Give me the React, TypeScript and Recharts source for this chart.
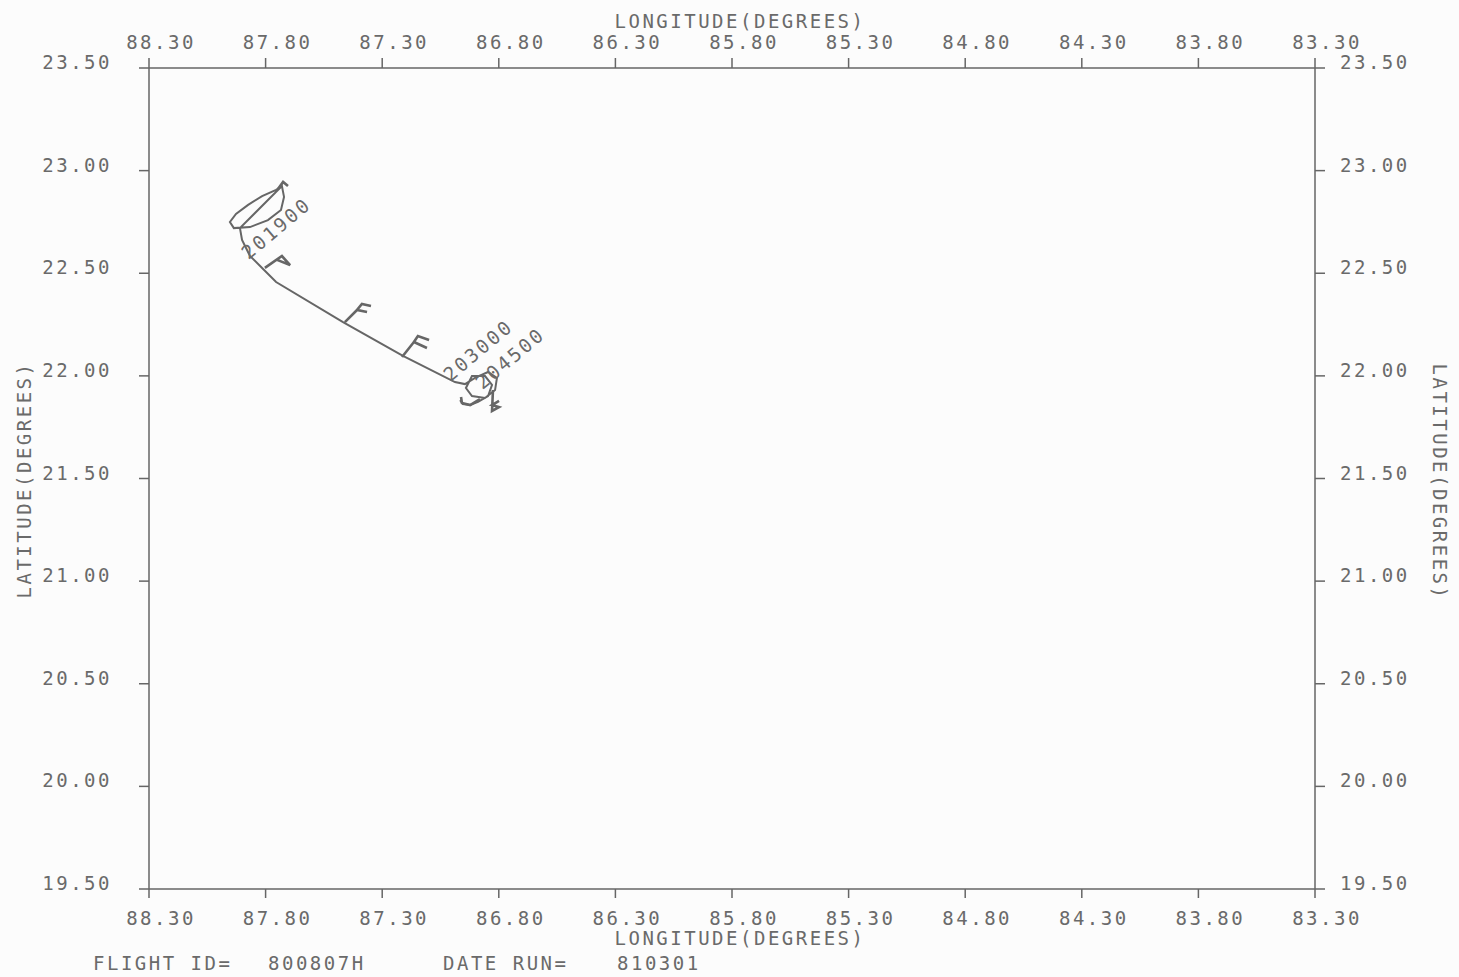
import { Scatter, ScatterChart, XAxis, YAxis } from 'recharts'

// axis ticks
const lonTicks = [88.3, 87.8, 87.3, 86.8, 86.3, 85.8, 85.3, 84.8, 84.3, 83.8, 83.3]
const latTicks = [23.5, 23.0, 22.5, 22.0, 21.5, 21.0, 20.5, 20.0, 19.5]

// flight track [lon, lat]
const track: [number, number][] = [
  [87.73, 22.925], [87.755, 22.906], [87.815, 22.876], [87.875, 22.833],
  [87.927, 22.789], [87.953, 22.75], [87.936, 22.72], [87.867, 22.725],
  [87.79, 22.759], [87.734, 22.808], [87.721, 22.872], [87.73, 22.925],
  [87.91, 22.72], [87.901, 22.662], [87.867, 22.584], [87.815, 22.526],
  [87.755, 22.457], [87.468, 22.262], [87.211, 22.097], [86.988, 21.97],
  [86.945, 21.96], [86.902, 21.99], [86.846, 22.019], [86.808, 21.99],
  [86.816, 21.931], [86.859, 21.892], [86.915, 21.902], [86.941, 21.941],
  [86.915, 21.999], [86.859, 21.999], [86.829, 21.956], [86.846, 21.902],
  [86.889, 21.873], [86.923, 21.858], [86.954, 21.863], [86.966, 21.882],
]

// wind barbs drawn along the track
const barbA: [number, number][] = [[87.803, 22.526], [87.73, 22.584], [87.695, 22.54], [87.751, 22.565]]
const barbB: [number, number][] = [
  [87.46, 22.262], [87.408, 22.321], [87.365, 22.311], [87.408, 22.321], [87.387, 22.35], [87.348, 22.34],
]
const barbC: [number, number][] = [
  [87.215, 22.092], [87.164, 22.165], [87.108, 22.136], [87.164, 22.165], [87.147, 22.194], [87.099, 22.175],
]
const barbD: [number, number][] = [[87.747, 22.91], [87.725, 22.945], [87.704, 22.925]]
const barbE: [number, number][] = [[86.881, 21.887], [86.923, 21.858], [86.958, 21.868], [86.962, 21.897]]
const barbF: [number, number][] = [
  [86.825, 21.931], [86.829, 21.829], [86.799, 21.848], [86.829, 21.858], [86.799, 21.878],
]

// time marks along the track
const timeLabels = ['201900', '203000', '204500']
const timeLon = [87.755, 86.889, 86.752]
const timeLat = [22.72, 22.126, 22.087]

const ink = '#666666'
const font = '"DejaVu Sans Mono", monospace'
const textStyle = { fontFamily: font, fontSize: 19, letterSpacing: 2.5, fill: '#6a6a6a' }

const toPts = (pts: [number, number][]) => pts.map(([lon, lat]) => ({ lon, lat }))
const labelData = timeLabels.map((text, i) => ({ lon: timeLon[i], lat: timeLat[i], text }))
const barbs = [barbA, barbB, barbC, barbD, barbE, barbF]

const fmt = (v: number) => v.toFixed(2)
const noDot = () => <g />

const TopTick = ({ x, y, payload }: any) => (
  <text x={x + 12} y={y - 9} textAnchor='middle' {...textStyle}>{fmt(payload.value)}</text>
)
const BottomTick = ({ x, y, payload }: any) => (
  <text x={x + 12} y={y + 27} textAnchor='middle' {...textStyle}>{fmt(payload.value)}</text>
)
const LeftTick = ({ x, y, payload }: any) => (
  <text x={x - 27} y={y + 1} textAnchor='end' {...textStyle}>{fmt(payload.value)}</text>
)
const RightTick = ({ x, y, payload }: any) => (
  <text x={x + 15} y={y + 1} textAnchor='start' {...textStyle}>{fmt(payload.value)}</text>
)

const TimeLabel = ({ cx, cy, payload }: any) => (
  <text
    x={cx}
    y={cy}
    textAnchor='middle'
    dominantBaseline='central'
    transform={`rotate(-40 ${cx} ${cy})`}
    {...textStyle}
  >
    {payload.text}
  </text>
)

export default function App() {
  const axisLine = { stroke: ink, strokeWidth: 1.5 }
  const tickLine = { stroke: ink, strokeWidth: 1.5 }
  return (
    <div style={{ position: 'absolute', left: 0, top: 0, width: 1459, height: 977, background: '#fcfcfc' }}>
      <ScatterChart width={1459} height={977} margin={{ top: 0, right: 0, bottom: 0, left: 0 }}>
        <XAxis
          xAxisId='b'
          orientation='bottom'
          type='number'
          dataKey='lon'
          domain={[83.3, 88.3]}
          reversed
          ticks={lonTicks}
          interval={0}
          height={88}
          tickSize={9}
          tickMargin={0}
          axisLine={axisLine}
          tickLine={tickLine}
          tick={BottomTick}
        />
        <XAxis
          xAxisId='t'
          orientation='top'
          type='number'
          dataKey='lon'
          domain={[83.3, 88.3]}
          reversed
          ticks={lonTicks}
          interval={0}
          height={68}
          tickSize={10}
          tickMargin={0}
          axisLine={axisLine}
          tickLine={tickLine}
          tick={TopTick}
        />
        <YAxis
          yAxisId='l'
          orientation='left'
          type='number'
          dataKey='lat'
          domain={[19.5, 23.5]}
          ticks={latTicks}
          interval={0}
          width={149}
          tickSize={10}
          tickMargin={0}
          axisLine={axisLine}
          tickLine={tickLine}
          tick={LeftTick}
        />
        <YAxis
          yAxisId='r'
          orientation='right'
          type='number'
          dataKey='lat'
          domain={[19.5, 23.5]}
          ticks={latTicks}
          interval={0}
          width={144}
          tickSize={10}
          tickMargin={0}
          axisLine={axisLine}
          tickLine={tickLine}
          tick={RightTick}
        />
        {/* keeps the top and right axes populated so they draw their ticks */}
        <Scatter
          xAxisId='t'
          yAxisId='r'
          data={toPts(track)}
          shape={noDot}
          isAnimationActive={false}
        />
        <Scatter
          xAxisId='b'
          yAxisId='l'
          data={toPts(track)}
          line={{ stroke: ink, strokeWidth: 2 }}
          lineType='joint'
          shape={noDot}
          isAnimationActive={false}
        />
        {barbs.map((b, i) => (
          <Scatter
            key={i}
            xAxisId='b'
            yAxisId='l'
            data={toPts(b)}
            line={{ stroke: ink, strokeWidth: 2.6 }}
            lineType='joint'
            shape={noDot}
            isAnimationActive={false}
          />
        ))}
        <Scatter
          xAxisId='b'
          yAxisId='l'
          data={labelData}
          shape={TimeLabel}
          isAnimationActive={false}
        />
        <text x={740} y={28} textAnchor='middle' {...textStyle}>LONGITUDE(DEGREES)</text>
        <text x={740} y={945} textAnchor='middle' {...textStyle}>LONGITUDE(DEGREES)</text>
        <text x={24} y={480} textAnchor='middle' dominantBaseline='central' transform='rotate(-90 24 480)' {...textStyle}>
          LATITUDE(DEGREES)
        </text>
        <text x={1440} y={482} textAnchor='middle' dominantBaseline='central' transform='rotate(90 1440 482)' {...textStyle}>
          LATITUDE(DEGREES)
        </text>
        <text x={93} y={970} {...textStyle}>FLIGHT ID=</text>
        <text x={268} y={970} {...textStyle}>800807H</text>
        <text x={443} y={970} {...textStyle}>DATE RUN=</text>
        <text x={617} y={970} {...textStyle}>810301</text>
      </ScatterChart>
    </div>
  )
}
